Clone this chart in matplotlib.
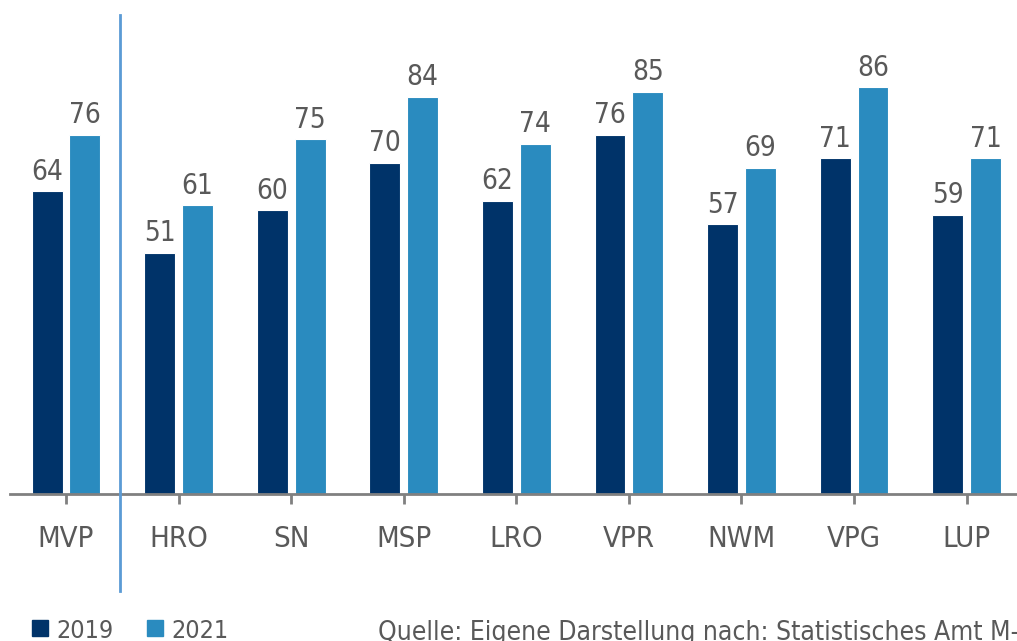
import matplotlib.pyplot as plt
import numpy as np
from matplotlib.lines import Line2D
from matplotlib.patches import Rectangle

regions = ["MVP", "HRO", "SN", "MSP", "LRO", "VPR", "NWM", "VPG", "LUP"]
values_2019 = [64, 51, 60, 70, 62, 76, 57, 71, 59]
values_2021 = [76, 61, 75, 84, 74, 85, 69, 86, 71]
series_labels = ["2019", "2021"]
source_note = "Quelle: Eigene Darstellung nach: Statistisches Amt M-V"

DARK = "#003369"
LIGHT = "#2a8bbf"
DIVIDER = "#5b9bd5"
GREY = "#595959"
AXIS = "#808080"
plt.rcParams["font.family"] = ["DejaVu Sans"]
plt.rcParams["font.stretch"] = "condensed"
TXT = dict(color=GREY, fontstretch="condensed")

W, H = 1017, 641
fig = plt.figure(figsize=(W / 100, H / 100), dpi=100)
ax = fig.add_axes([10 / W, 147 / H, 1 - 10 / W, 473 / H])

x = np.arange(len(regions))
bw = 0.275
off = 0.168
b1 = ax.bar(x - off, values_2019, bw, color=DARK, edgecolor="white", linewidth=0.8)
b2 = ax.bar(x + off, values_2021, bw, color=LIGHT, edgecolor="white", linewidth=0.8)
for bars in (b1, b2):
    ax.bar_label(bars, padding=4, fontsize=20, **TXT)

ax.set_xlim(-0.497, 8.447)
ax.set_ylim(0, 100)
for s in ("top", "right", "left"):
    ax.spines[s].set_visible(False)
ax.spines["bottom"].set_color(AXIS)
ax.spines["bottom"].set_linewidth(2)
ax.set_yticks([])
ax.set_xticks(x)
ax.set_xticklabels(regions, fontsize=21, **TXT)
ax.tick_params(axis="x", length=7, width=2, color=AXIS, pad=15)

# divider between state total and districts
fig.add_artist(Line2D([120 / W, 120 / W], [50 / H, 626 / H], color=DIVIDER, lw=2))

# legend
for px, col, lab in [(32, DARK, series_labels[0]), (147, LIGHT, series_labels[1])]:
    fig.add_artist(Rectangle((px / W, 5 / H), 16 / W, 16 / H, color=col,
                             transform=fig.transFigure))
    fig.text((px + 24) / W, 10 / H, lab, fontsize=18, va="center", **TXT)

fig.text(378 / W, 8 / H, source_note, fontsize=19, va="center", **TXT)

fig.savefig("out.png", dpi=100, facecolor="white")
